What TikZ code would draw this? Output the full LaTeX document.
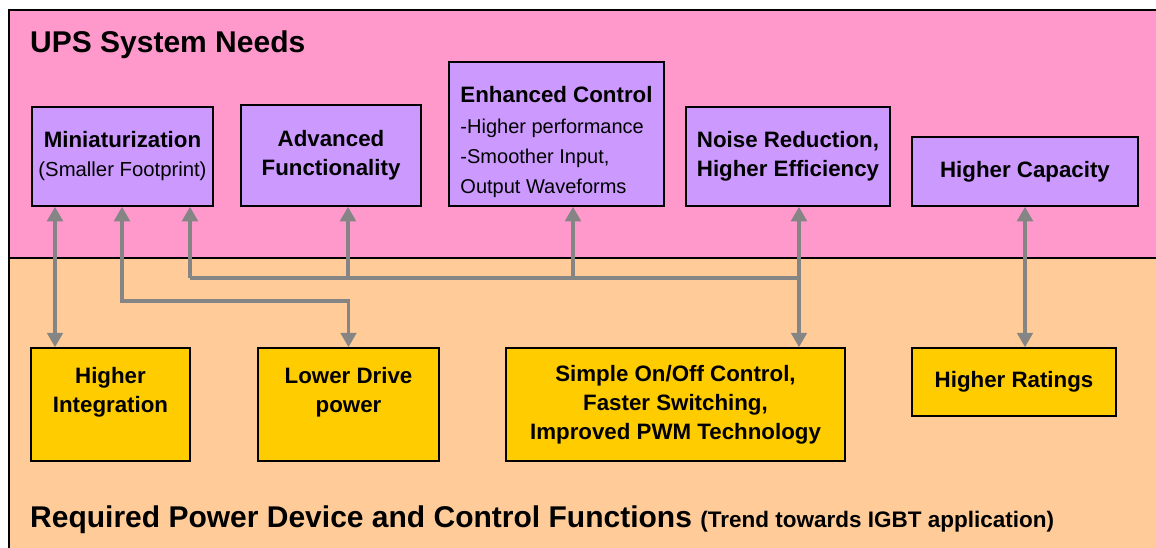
\documentclass[tikz,border=0pt]{standalone}
\usepackage{fontspec}
\setmainfont{Liberation Sans}
\usetikzlibrary{arrows.meta}
\definecolor{pinkbg}{HTML}{FF99CC}
\definecolor{orangebg}{HTML}{FFCC99}
\definecolor{purplebox}{HTML}{CC99FF}
\definecolor{yellowbox}{HTML}{FFCC00}
\definecolor{linkgray}{HTML}{858585}
\newcommand{\reg}{\mdseries\fontsize{20}{30.3}\selectfont}
\begin{document}
\begin{tikzpicture}[x=1pt,y=-1pt,
  needbox/.style={draw=black, line width=1.5pt, fill=purplebox, inner sep=0pt, align=center,
    font=\bfseries\fontsize{22.3}{29}\selectfont},
  funcbox/.style={draw=black, line width=1.5pt, fill=yellowbox, inner sep=0pt, align=center,
    font=\bfseries\fontsize{22.3}{28.8}\selectfont},
  link/.style={draw=linkgray, line width=3.5pt},
  twohead/.style={link, {Triangle[length=14.5pt,width=15.5pt]}-{Triangle[length=14.5pt,width=15.5pt]}},
  onehead/.style={link, -{Triangle[length=14.5pt,width=15.5pt]}},
  heading/.style={anchor=base west, inner sep=0pt, font=\bfseries\fontsize{30}{34}\selectfont}]
\useasboundingbox (0,0) rectangle (1156,548);
\fill[pinkbg] (9,10) rectangle (1156,258);
\fill[orangebg] (9,258) rectangle (1156,548);
\draw[line width=2pt] (1156,10) -- (9,10) -- (9,548);
\draw[line width=2pt] (9,258) -- (1156,258);

\node[heading] (needs) at (30,53) {UPS System Needs};
\node[heading] (funcs) at (30,527) {Required Power Device and Control Functions {\fontsize{22.5}{29}\selectfont (Trend towards IGBT application)}};

% need boxes
\node[needbox, minimum width=181pt, minimum height=99pt] (mini) at (122.5,156.5)
  {Miniaturization\\{\mdseries\fontsize{20.3}{29}\selectfont (Smaller Footprint)}};
\node[needbox, minimum width=180pt, minimum height=101pt] (adv) at (331,155.5)
  {Advanced\\Functionality};
\node[needbox, minimum width=215pt, minimum height=144pt, align=left,
  font=\bfseries\fontsize{22.3}{30.3}\selectfont] (enh) at (556.5,134)
  {\rule{0pt}{33pt}Enhanced Control\\{\reg -Higher performance}\\{\reg -Smoother Input,}\\{\reg Output Waveforms}};
\node[needbox, minimum width=204pt, minimum height=99pt] (noise) at (788,156.5)
  {Noise Reduction,\\Higher Efficiency};
\node[needbox, minimum width=226pt, minimum height=69pt] (cap) at (1025,171.5)
  {Higher Capacity};

% function boxes
\node[funcbox, minimum width=159pt, minimum height=113pt] (hint) at (110.5,404.5)
  {Higher\\Integration\\\mbox{}};
\node[funcbox, minimum width=181pt, minimum height=113pt] (drive) at (348.5,404.5)
  {Lower Drive\\power\\\mbox{}};
\node[funcbox, minimum width=339pt, minimum height=113pt] (simple) at (675.5,404.5)
  {Simple On/Off Control,\\Faster Switching,\\Improved PWM Technology};
\node[funcbox, minimum width=204pt, minimum height=68pt] (rate) at (1014,382)
  {Higher Ratings};

% bus coordinates
\coordinate (busL) at (190,278);
\coordinate (busA) at (348,278);
\coordinate (busE) at (573,278);
\coordinate (busR) at (799,278);

% connectors
\draw[twohead] (mini.south -| 55,0) -- (hint.north -| 55,0);
\draw[twohead] (mini.south -| 122,0) -- (122,301) -| (drive.north);
\draw[link] (busL) -- (busR);
\draw[onehead] (busL) -- (busL |- mini.south);
\draw[onehead] (busA) -- (busA |- adv.south);
\draw[onehead] (busE) -- (busE |- enh.south);
\draw[twohead] (busR |- noise.south) -- (busR |- simple.north);
\draw[twohead] (cap.south) -- (cap.south |- rate.north);
\end{tikzpicture}
\end{document}
